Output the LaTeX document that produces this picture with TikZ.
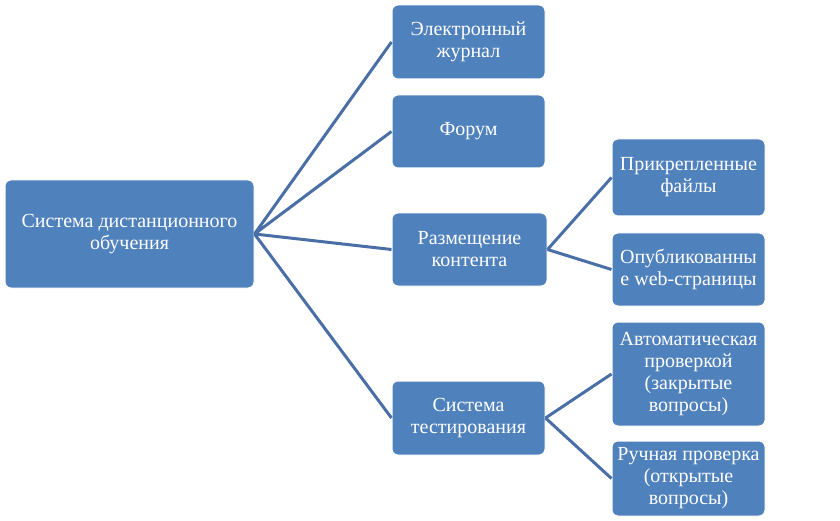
\documentclass[tikz,border=0pt]{standalone}
\usepackage{fontspec}
\setmainfont{LiberationSerif}[Extension=.ttf,UprightFont=*-Regular]
\definecolor{boxblue}{HTML}{4F81BD}
\definecolor{linkblue}{HTML}{4A6FA6}

\begin{document}
\begin{tikzpicture}[x=1pt,y=-1pt,
	box/.style={draw=white,line width=1pt,fill=boxblue,rounded corners=6pt,
		text=white,align=center,inner sep=0pt,font=\rmfamily\fontsize{20}{22}\selectfont,
		minimum width=153pt,minimum height=74pt},
	link/.style={draw=linkblue,line width=3pt}]
\useasboundingbox (0,0) rectangle (840,521);
\node [box,minimum width=249pt,minimum height=108pt] (sdo) at (129.5,234) {Система дистанционного\\обучения};
\node [box] (ej) at (468.5,42) {Электронный\\журнал};
\node [box,minimum height=73pt] (forum) at (468.5,131.5) {Форум};
\node [box,minimum width=155pt,minimum height=73pt] (content) at (469.5,249.5) {Размещение\\контента};
\node [box] (test) at (468.5,418) {Система\\тестирования};
\node [box,minimum height=77pt] (files) at (688.5,177.5) {Прикрепленные\\файлы};
\node [box,minimum height=73pt] (web) at (688.5,269.5) {Опубликованны\\е web-страницы};
\node [box,minimum height=104pt] (auto) at (688.5,374) {Автоматическая\\проверкой\\(закрытые\\вопросы)};
\node [box,minimum height=75pt] (manual) at (688.5,478.5) {Ручная проверка\\(открытые\\вопросы)};
\draw [link]
(sdo.east) -- (ej.west)
(sdo.east) -- (forum.west)
(sdo.east) -- (content.west)
(sdo.east) -- (test.west)
(content.east) -- (files.west)
(content.east) -- (web.west)
(test.east) -- (auto.west)
(test.east) -- (manual.west)
;
\end{tikzpicture}
\end{document}
